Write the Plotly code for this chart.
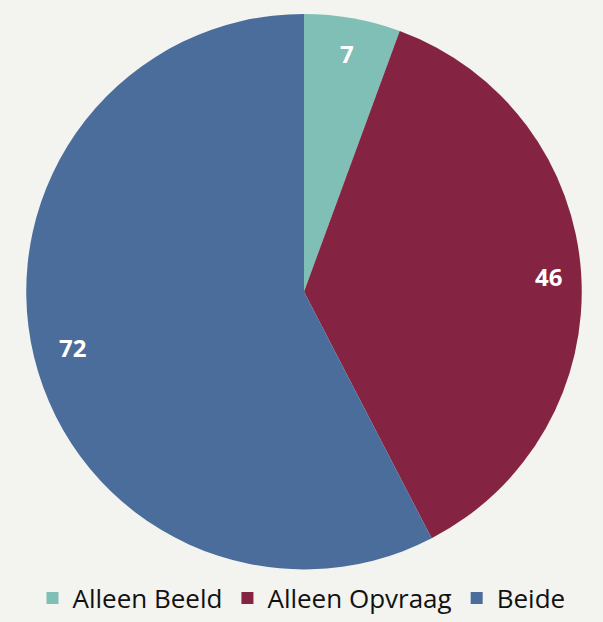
import math
import plotly.graph_objects as go

labels = ["Alleen Beeld", "Alleen Opvraag", "Beide"]
values = [7, 46, 72]
colors = ["#7FBFB5", "#852342", "#4A6D9C"]

W, H = 603, 622
cx, cy, r = 304, 294, 280
label_fracs = [0.87, 0.875, 0.85]

dom_x = [(cx - r) / W, (cx + r) / W]
dom_y = [(H - cy - r) / H, (H - cy + r) / H]

fig = go.Figure(go.Pie(
    labels=labels,
    values=values,
    sort=False,
    direction="clockwise",
    rotation=0,
    marker=dict(colors=colors, line=dict(width=0)),
    textinfo="none",
    domain=dict(x=dom_x, y=dom_y),
    hoverinfo="label+value",
))

# value labels placed along each slice's mid-angle
total = sum(values)
cum = 0
for v, f in zip(values, label_fracs):
    mid = (cum + v / 2) / total * 2 * math.pi
    cum += v
    px = cx + f * r * math.sin(mid)
    py = cy - f * r * math.cos(mid)
    fig.add_annotation(
        x=px / W, y=1 - py / H, xref="paper", yref="paper",
        xanchor="center", yanchor="middle",
        text=f"<b>{v}</b>", showarrow=False,
        font=dict(family="Open Sans", size=24, color="white"),
    )

fig.update_layout(
    width=W, height=H,
    margin=dict(l=0, r=0, t=0, b=0),
    paper_bgcolor="#F3F3EF",
    plot_bgcolor="#F3F3EF",
    showlegend=True,
    legend=dict(
        orientation="h", x=0.5, xanchor="center", y=(H - 603) / H, yanchor="middle",
        font=dict(family="Open Sans", size=26, color="#111111"),
        itemsizing="constant", itemwidth=30,
    ),
)

fig.write_html("out.html", config={"displayModeBar": False},
               post_script="document.body.style.margin='0';document.body.style.background='#F3F3EF';")
